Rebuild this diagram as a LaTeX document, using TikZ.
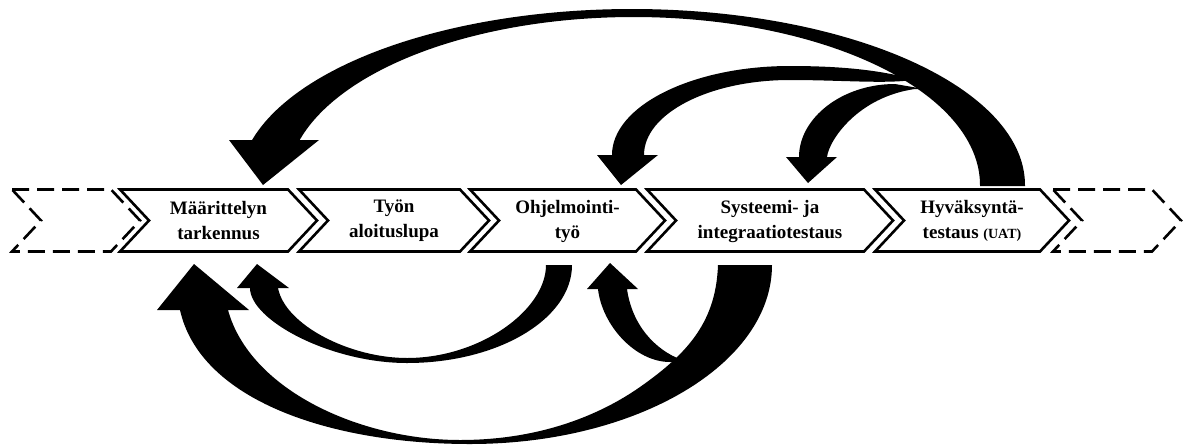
\documentclass[tikz,border=0pt]{standalone}
\usepackage{fontspec}
\setmainfont{Liberation Serif}
\begin{document}
\begin{tikzpicture}[x=1pt,y=-1pt,
  stage/.style={draw=black,line width=2.6pt,fill=white,line join=miter},
  ghost/.style={stage,dash pattern=on 17pt off 8pt},
  lbl/.style={font=\bfseries\fontsize{19}{25}\selectfont,align=center,inner sep=0pt},
  band/.style={fill=black},
  arc80/.style={smooth,samples=80,variable=\t}]

\useasboundingbox (0,0) rectangle (1186,445);

% chevron outline: left edge #1, right edge #2, point depth 29
\newcommand\chevshape[3]{%
  \draw[#3] (#1,189.5) -- (#2,189.5) -- (#2+29,220.5) -- (#2,251.5)
     -- (#1,251.5) -- (#1+29,220.5) -- cycle;}

\chevshape{12}{111}{ghost}
\chevshape{120}{288}{stage}
\chevshape{299}{460}{stage}
\chevshape{470}{636}{stage}
\chevshape{647}{864}{stage}
\chevshape{875}{1040}{stage}
\chevshape{1053}{1152}{ghost}

\node[lbl] (s1) at (218.5,221) {Määrittelyn\\tarkennus};
\node[lbl] (s2) at (394,221) {Työn\\aloituslupa};
\node[lbl] (s3) at (567.5,221) {Ohjelmointi-\\työ};
\node[lbl] (s4) at (770,221) {Systeemi- ja\\integraatiotestaus};
\node[lbl] (s5) at (972,221) {Hyväksyntä-\\testaus {\fontsize{14}{25}\selectfont (UAT)}};

% upper loop: acceptance testing back to requirement refinement
\fill[band] plot[arc80,domain=0:164.46] ({633.5+346.5*cos(\t)},{185-168*sin(\t)})
  -- (319,140) -- (263,185) -- (229,140)
  -- plot[arc80,domain=165.19:0] ({632+393*cos(\t)},{185-176*sin(\t)})
  -- (1025,186) -- (980,186) -- cycle;

% branch to programming
\fill[band] (912,79) .. controls (880,70) and (840,66) .. (790,66)
  .. controls (692,66) and (612,106) .. (612,155)
  -- (597,155) -- (621,185) -- (658,155) -- (644,155)
  .. controls (644,113.6) and (709,80) .. (790,80)
  .. controls (840,80) and (885,84) .. (912,80) -- cycle;

% branch to system testing
\fill[band] (930,90) -- (895,84) .. controls (842,84) and (799,118) .. (799,157)
  -- (786,157) -- (808,183) -- (837,157) -- (827,157)
  .. controls (829,140) and (858,97) .. (915,89) -- cycle;

% lower loop: system testing back to requirement refinement
\fill[band] (772,265) .. controls (772,364) and (637,444) .. (470,444)
  .. controls (330,444) and (200,400) .. (180,310)
  -- (157,310) -- (194,264) -- (249,310) -- (228,310)
  .. controls (250,390) and (360,440) .. (460,440)
  .. controls (540,440) and (600,415) .. (640,387)
  .. controls (690,352) and (716,320) .. (718,265) -- cycle;

% programming back to work permit
\fill[band] (572,265) .. controls (572,319) and (498,363) .. (407,363)
  .. controls (330,363) and (250,320) .. (250,288)
  -- (237,288) -- (257,264) -- (289,288) -- (278,288)
  .. controls (285,325) and (350,358) .. (407,358)
  .. controls (480,358) and (546,310) .. (546,265) -- cycle;

% branch back to programming
\fill[band] (682,362) -- (670,362) .. controls (635,362) and (602,325) .. (598,289)
  -- (587,289) -- (610,263) -- (638,289) -- (627,289)
  .. controls (632,325) and (655,350) .. (682,360) -- cycle;

\end{tikzpicture}
\end{document}
